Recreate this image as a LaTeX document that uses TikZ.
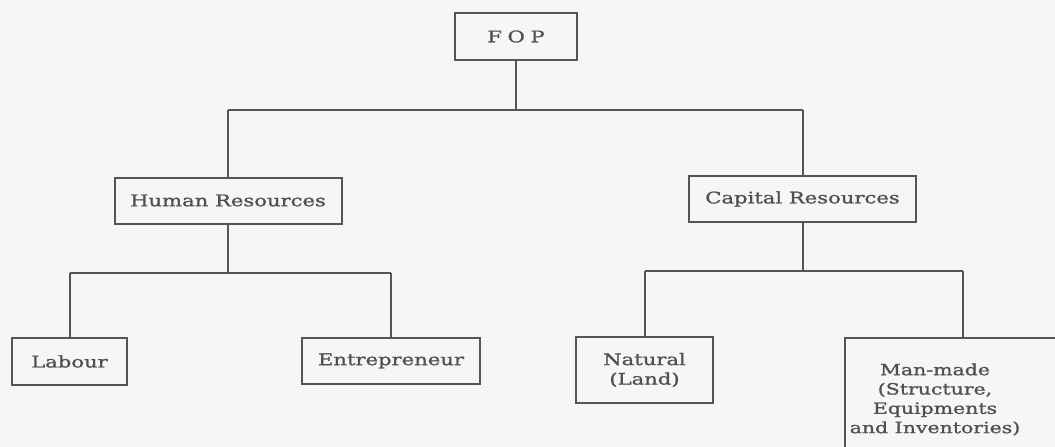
\documentclass[tikz,border=0pt]{standalone}
\usepackage{fontspec}
\setmainfont{DejaVu Serif}[FakeStretch=1.32, FakeBold=1.2]
\begin{document}
\begin{tikzpicture}[x=1pt,y=-1pt,
  box/.style={draw=linegrey, line width=2pt, fill=paper, text=textgrey, inner sep=0pt, font=\fontsize{16}{19.5}\selectfont},
  link/.style={draw=linegrey, line width=2pt}]
\definecolor{paper}{HTML}{F6F6F4}
\definecolor{linegrey}{HTML}{555555}
\definecolor{textgrey}{HTML}{505050}
\fill[paper] (0,0) rectangle (1055,447);
\useasboundingbox (0,0) rectangle (1055,447);
% nodes
\node[box, minimum width=122pt, minimum height=47pt] (fop) at (516,36.5) {F\hspace{0.35em}O\hspace{0.35em}P};
\node[box, minimum width=227pt, minimum height=46pt] (hr) at (228,200.5) {Human Resources};
\node[box, minimum width=227pt, minimum height=46pt] (cr) at (802.5,199) {Capital Resources};
\node[box, minimum width=115pt, minimum height=47pt] (lab) at (69.5,361.5) {Labour};
\node[box, minimum width=178pt, minimum height=46pt] (ent) at (391,361) {Entrepreneur};
\node[box, minimum width=137pt, minimum height=66pt, align=center] (nat) at (644.5,370) {Natural\\(Land)};
\node[box, minimum width=240pt, minimum height=140pt, anchor=north west] (man) at (844,337) {};
\node[text=textgrey, font=\fontsize{15.5}{19.3}\selectfont, align=center] (mantext) at (935,399.5) {Man-made\\(Structure,\\Equipments\\and Inventories)};
% connector coordinates
\coordinate (j0) at (516,110);
\coordinate (j1) at (228,273);
\coordinate (j2) at (802.5,271);
\coordinate (j3) at (963,271);
% connectors
\draw[link] (fop.south) -- (j0);
\draw[link] (j0 -| hr.north) -- (j0 -| cr.north);
\draw[link] (j0 -| hr.north) -- (hr.north);
\draw[link] (j0 -| cr.north) -- (cr.north);
\draw[link] (hr.south) -- (j1);
\draw[link] (j1 -| lab.north) -- (j1 -| ent.north);
\draw[link] (j1 -| lab.north) -- (lab.north);
\draw[link] (j1 -| ent.north) -- (ent.north);
\draw[link] (cr.south) -- (j2);
\draw[link] (j2 -| nat.north) -- (j3);
\draw[link] (j2 -| nat.north) -- (nat.north);
\draw[link] (j3) -- (j3 |- man.north);
\end{tikzpicture}
\end{document}
